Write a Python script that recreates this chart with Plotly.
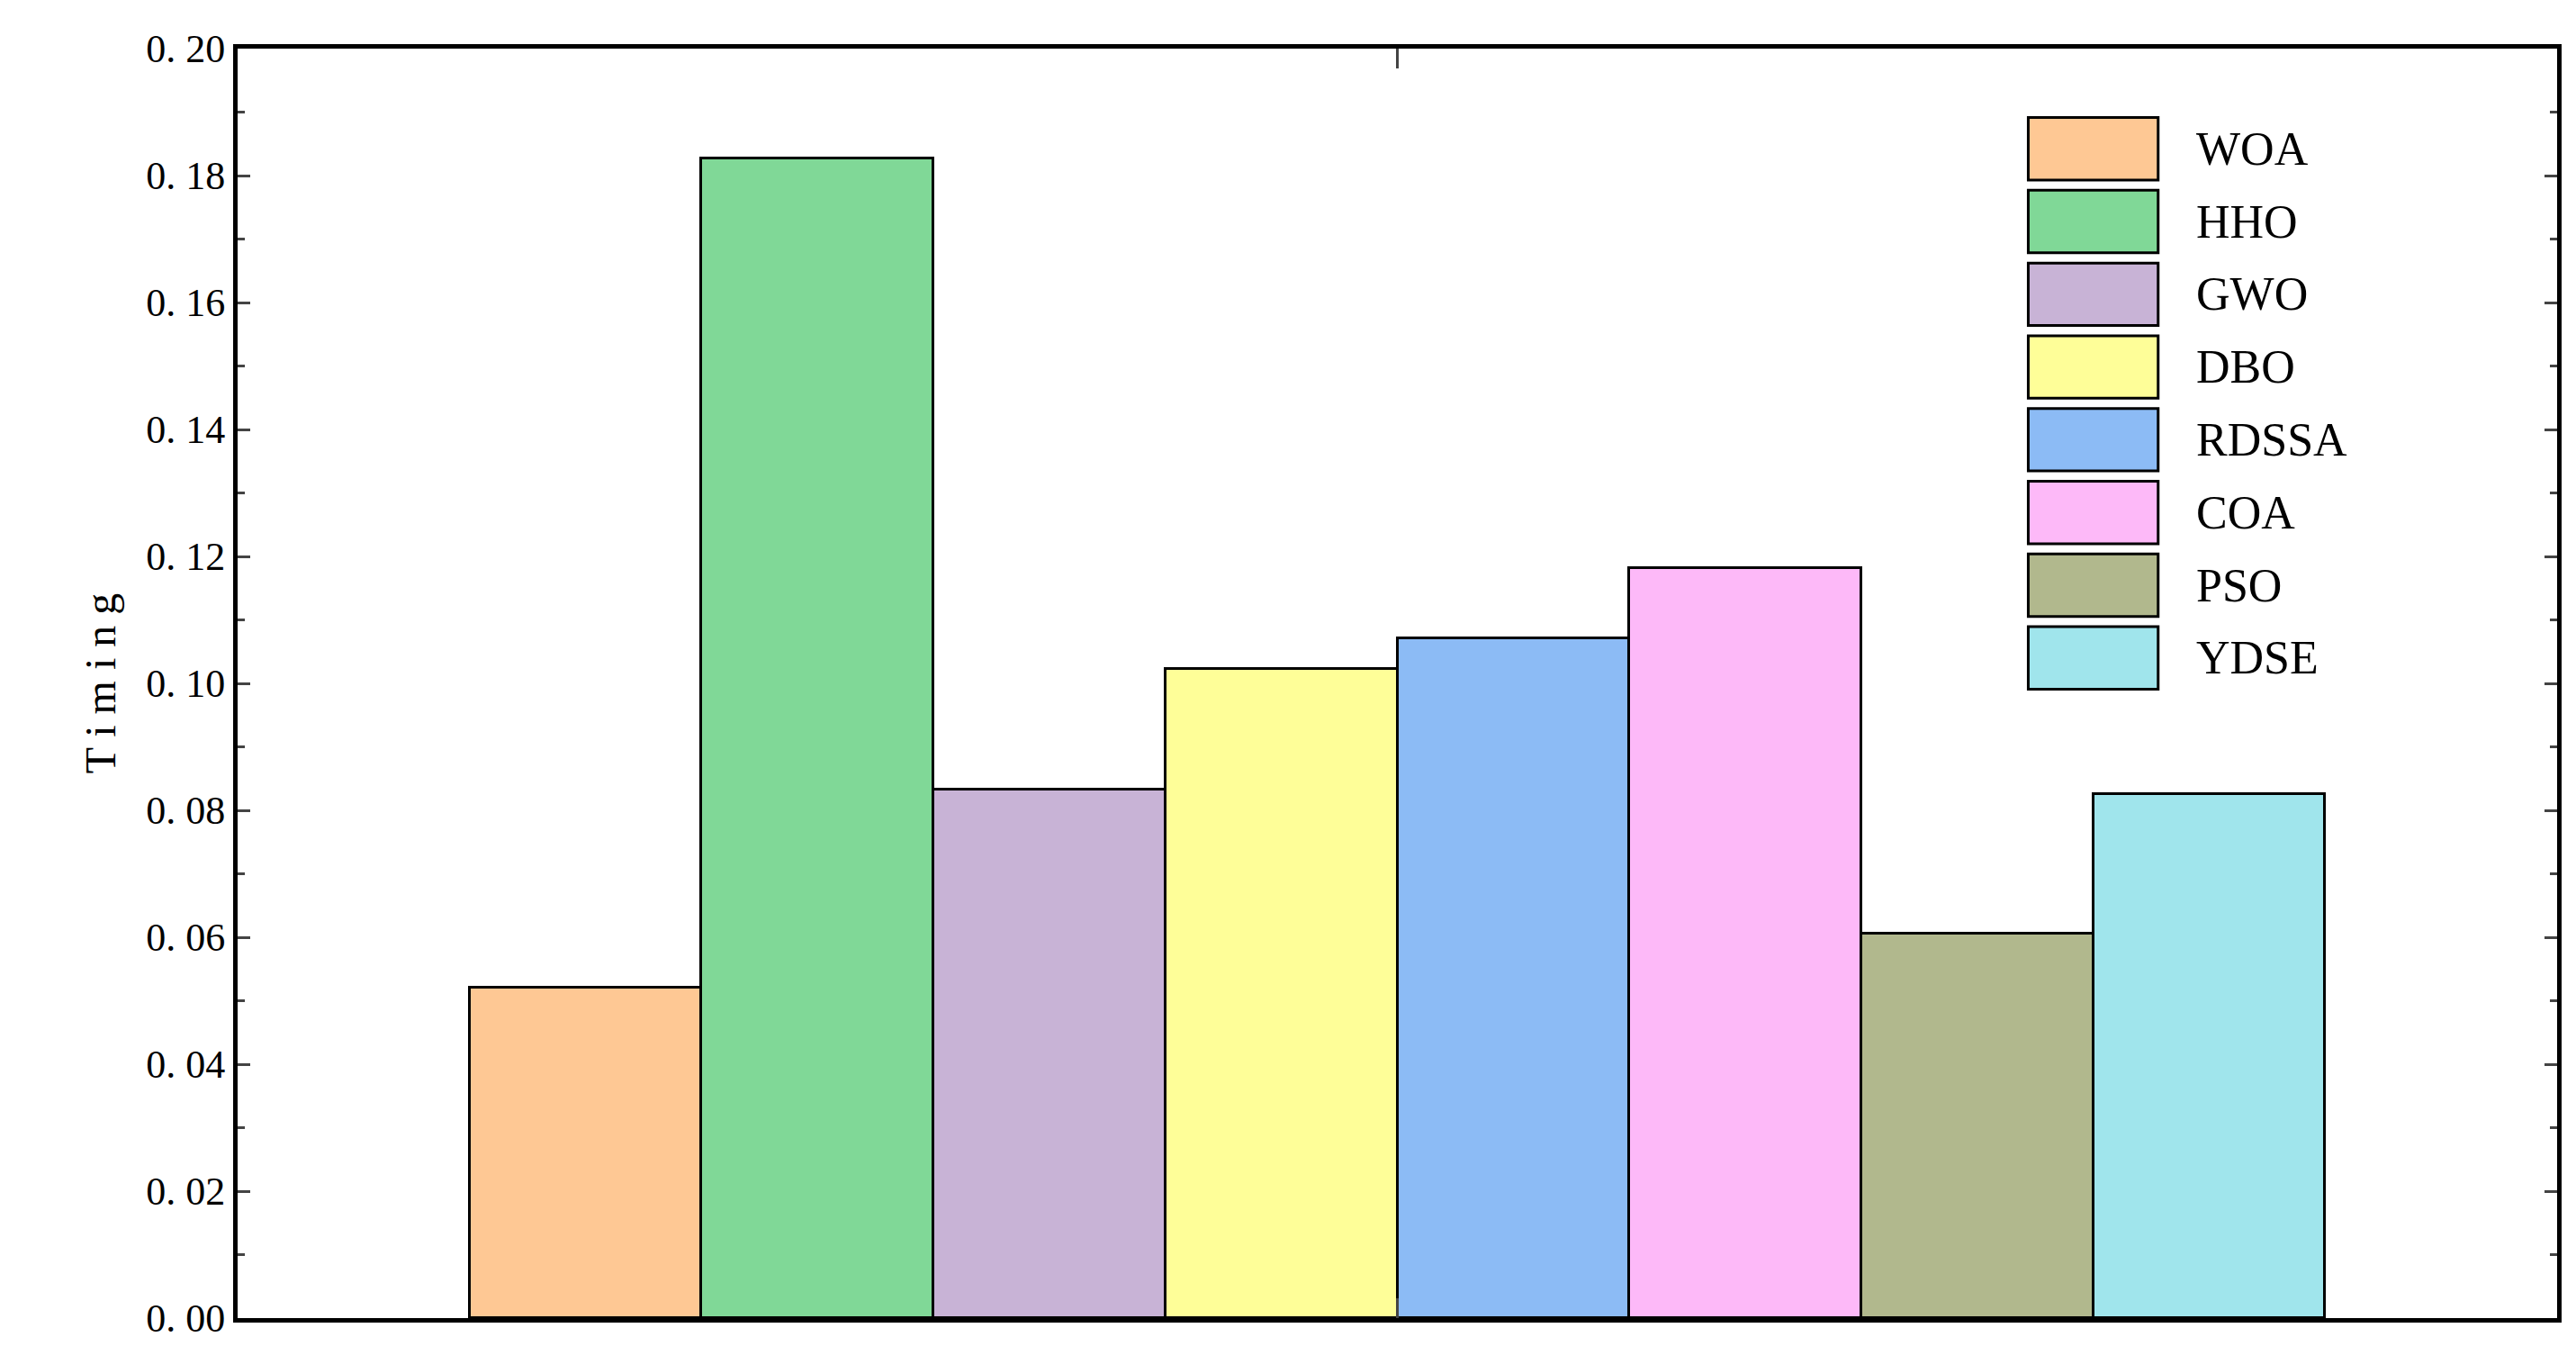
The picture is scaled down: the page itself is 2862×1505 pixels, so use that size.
import plotly.graph_objects as go

names = ["WOA", "HHO", "GWO", "DBO", "RDSSA", "COA", "PSO", "YDSE"]
values = [0.052, 0.1827, 0.0833, 0.1022, 0.1071, 0.1182, 0.0605, 0.0825]
colors = ["#FEC894", "#80D897", "#C8B3D6", "#FEFE98", "#8CBBF5", "#FDB9F8", "#B1B88D", "#A0E5EC"]
positions = [1.5, 2.5, 3.5, 4.5, 5.5, 6.5, 7.5, 8.5]
yticks = [0.0, 0.02, 0.04, 0.06, 0.08, 0.10, 0.12, 0.14, 0.16, 0.18, 0.20]

font = "Liberation Serif"
fig = go.Figure()
for n, v, c, p in zip(names, values, colors, positions):
    fig.add_trace(go.Bar(x=[p], y=[v], width=1, name=n, marker=dict(color=c, line=dict(color="black", width=3)), showlegend=False))

for i, (n, c) in enumerate(zip(names, colors)):
    top = 0.9457 - i * 0.0573
    fig.add_shape(type="rect", xref="paper", yref="paper", x0=0.772, x1=0.828, y0=top - 0.0492, y1=top,
                  fillcolor=c, line=dict(color="black", width=3))
    fig.add_annotation(xref="paper", yref="paper", x=0.8435, y=top - 0.0246, text=n, showarrow=False,
                       xanchor="left", yanchor="middle", font=dict(family=font, size=52, color="black"))

fig.update_layout(
    width=2862, height=1505, margin=dict(l=256, r=29, t=46, b=49),
    plot_bgcolor="white", paper_bgcolor="white", bargap=0,
    font=dict(family=font, size=44, color="black"),
)
fig.update_xaxes(range=[0, 10], tickvals=[5], ticktext=[""], ticks="inside", ticklen=22, tickwidth=3,
                 showline=True, linecolor="black", linewidth=5, mirror="ticks", showgrid=False, zeroline=False)
fig.update_yaxes(range=[0, 0.2], tickvals=yticks, ticktext=["0. %02d" % round(t * 100) for t in yticks],
                 ticks="inside", ticklen=14, tickwidth=3, showline=True, linecolor="black", linewidth=5,
                 mirror="ticks", showgrid=False, zeroline=False,
                 minor=dict(dtick=0.01, ticks="inside", ticklen=8, tickwidth=3, showgrid=False),
                 title=dict(text="T i m i n g", font=dict(size=48), standoff=20))
fig.write_html("out.html")
